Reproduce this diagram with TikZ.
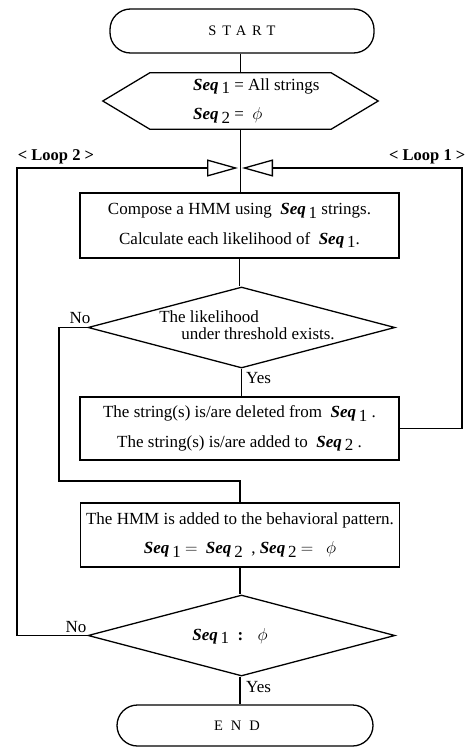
\documentclass[tikz,border=0pt]{standalone}
\usepackage{fontspec}
\setmainfont{Liberation Serif}
\usetikzlibrary{shapes.geometric,arrows.meta}

\newcommand{\sq}[1]{\textbf{\textit{Seq}}\,\raisebox{-0.45ex}{#1}}

\tikzset{
  flow/.style={line width=1.3pt},
  txt/.style={font=\fontsize{17}{29.5}\selectfont, inner sep=0pt, align=center},
  term/.style={draw, line width=1.3pt, rounded corners=20.5pt, inner sep=0pt,
    font=\fontsize{14.5}{17}\selectfont},
  proc/.style={draw, txt, line width=1.3pt, minimum width=319pt, minimum height=64pt},
  decision/.style={draw, diamond, line width=1.3pt, inner sep=0pt, aspect=3.8,
    minimum width=307pt, minimum height=81pt},
  merge/.style={flow, -{Triangle[open,length=31pt,width=17pt]}},
  looplabel/.style={font=\fontsize{16.5}{18}\selectfont\bfseries, inner sep=0pt},
}

\begin{document}
\begin{tikzpicture}[x=1pt,y=-1pt]
\useasboundingbox (0,0) rectangle (464,747);

% where the loops come back
\coordinate (mergeL) at (238,168);
\coordinate (mergeR) at (242,168);
\coordinate (farL) at (17,0);
\coordinate (farR) at (462,0);
\coordinate (inL) at (59,481);

\node[term, minimum width=264pt, minimum height=44pt] (start) at (242,31)
  {\addfontfeature{LetterSpace=40}START};

% initial setting (hexagon)
\node[minimum width=275pt, minimum height=56pt, inner sep=0pt] (init) at (240.5,101) {};
\draw[flow] (init.west) -- ([xshift=47pt]init.north west) -- ([xshift=-47pt]init.north east)
  -- (init.east) -- ([xshift=-47pt]init.south east) -- ([xshift=47pt]init.south west) -- cycle;
\node[txt, align=left, anchor=west] (inittext) at (193,101)
  {\sq{1} = All strings\\\sq{2} = \ $\phi$};

\node[proc, minimum height=65pt] (compose) at (239.5,225.5)
  {Compose a HMM using \ \sq{1} strings.\\Calculate each likelihood of \ \sq{1}.};

\node[decision] (check) at (241.5,327.5) {};
\node[txt, align=left, font=\fontsize{17}{16.5}\selectfont] (checktext) at (247,325)
  {The likelihood\\\hspace{22pt}under threshold exists.};

\node[proc, minimum height=63pt] (delete) at (239.5,428.5)
  {The string(s) is/are deleted from \ \sq{1} .\\The string(s) is/are added to \ \sq{2} .};

\node[proc] (add) at (240,535)
  {The HMM is added to the behavioral pattern.\\
   \sq{1} $=$ \ \sq{2} \ , \sq{2} $=$ \ \ $\phi$};

\node[decision] (empty) at (241.5,635.5) {};
\node[txt] (emptytext) at (230,636) {\sq{1} \ \textbf{:} \ \ $\phi$};

\node[term, minimum width=256pt, minimum height=41pt] (stop) at (245,725.5) {};
\node[font=\fontsize{14.5}{17}\selectfont, inner sep=0pt] (stoptext) at (237,725.5)
  {\addfontfeature{LetterSpace=55}END};

% main flow
\draw[flow] (start.south -| init.north) -- (init.north);
\draw[flow] (init.south) -- (compose.north -| init.south);
\draw[flow] (compose.south) -- (check.north -| compose.south);
\draw[flow] (check.south) -- (delete.north -| check.south);
\draw[flow] (add.south) -- (empty.north -| add.south);
\draw[flow] (empty.south -| add.south) -- (stop.north -| add.south);

% loops
\draw[flow] (check.west) -| (inL) -| (add.north);
\draw[merge] (delete.east) -| (farR |- mergeR) -- (mergeR);
\draw[merge] (empty.west) -| (farL |- mergeL) -- (mergeL);

\node[looplabel] (loop2) at (56,157) {< Loop 2 >};
\node[looplabel, anchor=west] (loop1) at (389,157) {< Loop 1 >};

\node[txt] (no1) at (80,318) {No};
\node[txt, anchor=west] (yes1) at (246,378) {Yes};
\node[txt] (no2) at (76,627) {No};
\node[txt, anchor=west] (yes2) at (246,687) {Yes};
\end{tikzpicture}
\end{document}
